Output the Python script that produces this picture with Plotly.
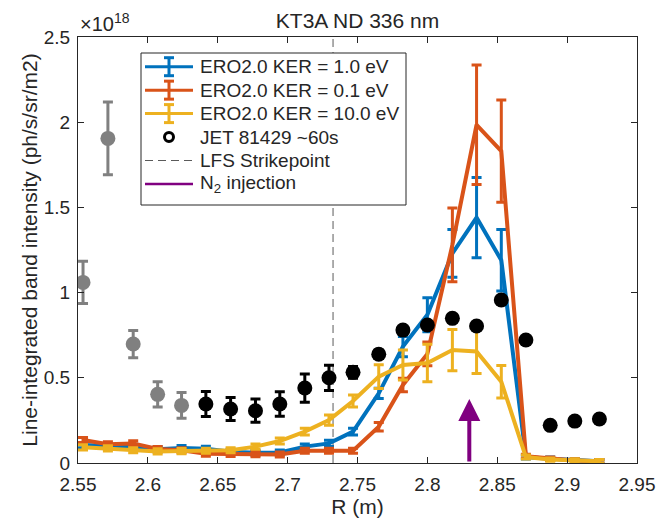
import plotly.graph_objects as go

# Radial positions of the chords (m)
R = [2.5536, 2.5714, 2.5895, 2.6070, 2.6241, 2.6415, 2.6592, 2.6770, 2.6944, 2.7123, 2.7296,
     2.7468, 2.7652, 2.7825, 2.8000, 2.8179, 2.8352, 2.8529, 2.8705, 2.8879, 2.9055, 2.9231]

# ERO2.0 synthetic signals (x1e18 ph/s/sr/m2) and their uncertainties
ker_1 = [0.105, 0.100, 0.095, 0.080, 0.088, 0.084, 0.066, 0.060, 0.062, 0.096, 0.115,
         0.184, 0.409, 0.683, 0.870, 1.230, 1.440, 1.190, 0.035, 0.025, 0.015, 0.010]
ker_1_err = [0.015, 0.015, 0.015, 0.015, 0.015, 0.015, 0.015, 0.015, 0.015, 0.015, 0.018,
             0.020, 0.030, 0.060, 0.100, 0.140, 0.235, 0.180, 0.012, 0.010, 0.010, 0.010]

ker_01 = [0.135, 0.110, 0.115, 0.082, 0.075, 0.055, 0.053, 0.052, 0.050, 0.072, 0.072,
          0.072, 0.213, 0.458, 0.640, 1.280, 1.985, 1.830, 0.040, 0.025, 0.015, 0.010]
ker_01_err = [0.015, 0.015, 0.015, 0.015, 0.015, 0.015, 0.015, 0.015, 0.015, 0.015, 0.015,
              0.015, 0.025, 0.040, 0.070, 0.217, 0.350, 0.300, 0.012, 0.010, 0.010, 0.010]

ker_10 = [0.092, 0.086, 0.075, 0.068, 0.070, 0.072, 0.075, 0.096, 0.129, 0.184, 0.252,
          0.364, 0.507, 0.575, 0.587, 0.663, 0.655, 0.477, 0.035, 0.020, 0.015, 0.010]
ker_10_err = [0.015, 0.015, 0.015, 0.015, 0.015, 0.015, 0.015, 0.015, 0.018, 0.020, 0.030,
              0.035, 0.070, 0.088, 0.110, 0.121, 0.130, 0.095, 0.012, 0.010, 0.010, 0.010]

# JET pulse 81429 measurement (x1e18) and uncertainty
jet = [1.060, 1.905, 0.698, 0.403, 0.338, 0.346, 0.317, 0.307, 0.346, 0.440, 0.500,
       0.532, 0.638, 0.780, 0.810, 0.849, 0.804, 0.957, 0.722, 0.221, 0.246, 0.258]
jet_err = [0.124, 0.213, 0.080, 0.074, 0.075, 0.073, 0.068, 0.068, 0.072, 0.083, 0.074,
           0.035, 0.025, 0.015, 0.015, 0.010, 0.010, 0.010, 0.010, 0.0, 0.0, 0.0]
n_gray = 5  # first chords shown greyed out

strike_R = 2.7325   # LFS strikepoint
n2_R = 2.83         # N2 injection location
n2_len = 0.375      # arrow length in plot units

x_ticks = [2.55, 2.60, 2.65, 2.70, 2.75, 2.80, 2.85, 2.90, 2.95]
x_tick_text = ["2.55", "2.6", "2.65", "2.7", "2.75", "2.8", "2.85", "2.9", "2.95"]
y_ticks = [0, 0.5, 1, 1.5, 2, 2.5]
y_tick_text = ["0", "0.5", "1", "1.5", "2", "2.5"]

BLUE = "#0072BD"
ORANGE = "#D95319"
YELLOW = "#EDB120"
PURPLE = "#800080"
GRAY = "#808080"
DASH_GRAY = "#5a5a5a"
TXT = "#262626"
FONT = "Liberation Sans, Arial, sans-serif"

W, H = 670, 521
ML, MR, MT, MB = 78, 33, 37, 58
PW, PH = W - ML - MR, H - MT - MB

fig = go.Figure()

# strikepoint marker line
fig.add_trace(go.Scatter(x=[strike_R, strike_R], y=[y_ticks[0], y_ticks[-1]], mode="lines",
                         line=dict(color=DASH_GRAY, width=1, dash="8px,5px"),
                         hoverinfo="skip", showlegend=False))

for vals, errs, col in [(ker_1, ker_1_err, BLUE), (ker_01, ker_01_err, ORANGE),
                        (ker_10, ker_10_err, YELLOW)]:
    fig.add_trace(go.Scatter(
        x=R, y=vals, mode="lines",
        line=dict(color=col, width=4),
        error_y=dict(type="data", array=errs, visible=True, color=col, thickness=3, width=5),
        showlegend=False))

fig.add_trace(go.Scatter(
    x=R[:n_gray], y=jet[:n_gray], mode="markers",
    marker=dict(color=GRAY, size=15, line=dict(width=0)),
    error_y=dict(type="data", array=jet_err[:n_gray], visible=True, color=GRAY, thickness=3, width=5),
    showlegend=False))
fig.add_trace(go.Scatter(
    x=R[n_gray:], y=jet[n_gray:], mode="markers",
    marker=dict(color="black", size=15, line=dict(width=0)),
    error_y=dict(type="data", array=jet_err[n_gray:], visible=True, color="black", thickness=3, width=5),
    showlegend=False))

annotations = [
    dict(x=n2_R, y=n2_len, ax=n2_R, ay=0, xref="x", yref="y", axref="x", ayref="y",
         text="", showarrow=True, arrowhead=2, arrowsize=1.1, arrowwidth=4, arrowcolor=PURPLE),
    dict(x=0, y=1, xref="paper", yref="paper", xanchor="left", yanchor="bottom", yshift=0,
         text="\u00d710<sup>18</sup>", showarrow=False, font=dict(size=20, color=TXT, family=FONT)),
]


# legend drawn in pixel space
def fx(p):
    return (p - ML) / PW


def fy(p):
    return (H - MB - p) / PH


shapes = []
box = dict(x0=141, x1=406, y0=53, y1=205)
shapes.append(dict(type="rect", xref="paper", yref="paper", x0=fx(box["x0"]), x1=fx(box["x1"]),
                   y0=fy(box["y1"]), y1=fy(box["y0"]), line=dict(color=TXT, width=1),
                   fillcolor="white", layer="above"))

legend_items = [
    ("ERO2.0 KER = 1.0 eV", "err", BLUE),
    ("ERO2.0 KER = 0.1 eV", "err", ORANGE),
    ("ERO2.0 KER = 10.0 eV", "err", YELLOW),
    ("JET 81429 ~60s", "ring", "black"),
    ("LFS Strikepoint", "dash", DASH_GRAY),
    ("N<sub>2</sub> injection", "line", PURPLE),
]
row0, dy = 66.7, 23.45
sx0, sx1, sxc, tx = 145, 193, 169, 198


def seg(x0, y0, x1, y1, color, width, dash=None):
    ln = dict(color=color, width=width)
    if dash:
        ln["dash"] = dash
    return dict(type="line", xref="paper", yref="paper", x0=fx(x0), y0=fy(y0),
                x1=fx(x1), y1=fy(y1), line=ln, layer="above")


for i, (label, kind, col) in enumerate(legend_items):
    yc = row0 + i * dy
    if kind == "err":
        shapes.append(seg(sx0, yc, sx1, yc, col, 3))
        shapes.append(seg(sxc, yc - 9, sxc, yc + 9, col, 3))
        shapes.append(seg(sxc - 5, yc - 9, sxc + 5, yc - 9, col, 3))
        shapes.append(seg(sxc - 5, yc + 9, sxc + 5, yc + 9, col, 3))
    elif kind == "ring":
        shapes.append(dict(type="circle", xref="paper", yref="paper",
                           x0=fx(sxc - 4.5), x1=fx(sxc + 4.5), y0=fy(yc + 4.5), y1=fy(yc - 4.5),
                           line=dict(color=col, width=3), fillcolor="white", layer="above"))
    elif kind == "dash":
        shapes.append(seg(sx0, yc, sx1, yc, col, 1, "8px,5px"))
    else:
        shapes.append(seg(sx0, yc, sx1, yc, col, 2.5))
    annotations.append(dict(x=fx(tx), y=fy(yc), xref="paper", yref="paper", xanchor="left",
                            yanchor="middle", text=label, showarrow=False,
                            font=dict(size=19, color=TXT, family=FONT)))

axis_common = dict(showline=True, linecolor=TXT, linewidth=1, mirror="ticks", ticks="inside",
                   ticklen=6, tickcolor=TXT, tickwidth=1, showgrid=False, zeroline=False,
                   automargin=False, tickfont=dict(size=19, color=TXT, family=FONT))

fig.update_layout(
    template="none",
    width=W, height=H,
    margin=dict(l=ML, r=MR, t=MT, b=MB),
    paper_bgcolor="white", plot_bgcolor="white",
    font=dict(family=FONT, color=TXT),
    title=dict(text="KT3A ND 336 nm", x=fx(357.5), xanchor="center", xref="paper",
               y=1 - 21 / H, yref="container", yanchor="middle",
               font=dict(size=21, color=TXT, family=FONT)),
    xaxis=dict(range=[x_ticks[0], x_ticks[-1]], tickvals=x_ticks, ticktext=x_tick_text,
               title=dict(text="R (m)", font=dict(size=21, color=TXT, family=FONT), standoff=2),
               ticklabelstandoff=4,
               **axis_common),
    yaxis=dict(range=[y_ticks[0], y_ticks[-1]], tickvals=y_ticks, ticktext=y_tick_text,
               title=dict(text="Line-integrated band intensity (ph/s/sr/m2)",
                          font=dict(size=21, color=TXT, family=FONT), standoff=0),
               ticklabelstandoff=3,
               **axis_common),
    shapes=shapes,
    annotations=annotations,
    showlegend=False,
)

fig.write_html("out.html")
